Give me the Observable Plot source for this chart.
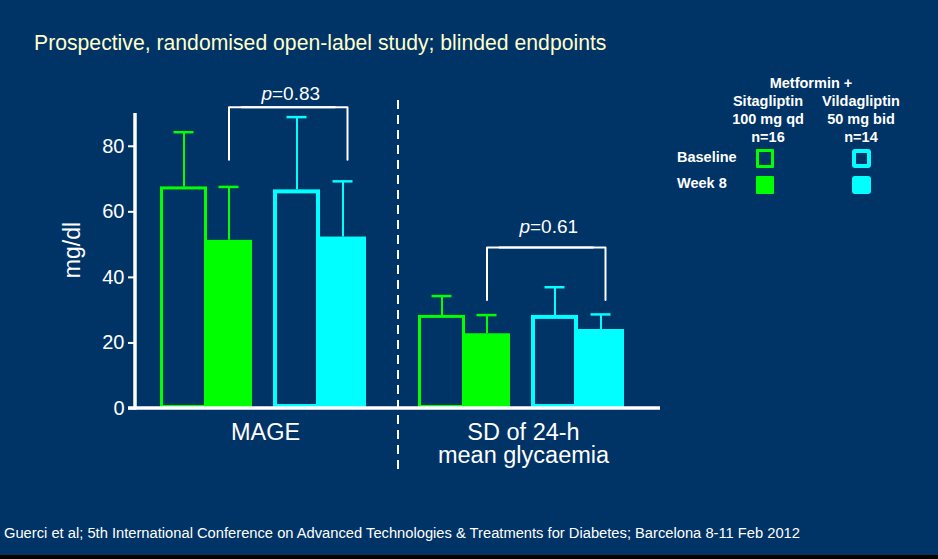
<!DOCTYPE html>
<html>
<head>
<meta charset="utf-8">
<script src="https://cdn.jsdelivr.net/npm/d3@7"></script>
<script src="https://cdn.jsdelivr.net/npm/@observablehq/plot@0.6"></script>
<style>
  html, body { margin: 0; padding: 0; background: #003366; }
  #page { position: relative; width: 938px; height: 559px; background: #003366; overflow: hidden;
          font-family: "Liberation Sans", Arial, sans-serif; color: #ffffff; }
  #chart { position: absolute; left: 0; top: 0; }
  .abs { position: absolute; white-space: nowrap; }
  #title { left: 34px; top: 31.5px; font-size: 21.2px; line-height: 21px; color: #ffffcc; }
  #caption { left: 4px; top: 526px; font-size: 14px; line-height: 14px; color: #ffffff; transform-origin: 0 0; }
  #ylabel { left: 72px; top: 250px; font-size: 23px; transform: translate(-50%, -50%) rotate(-90deg); }
  .leg { font-size: 14.5px; line-height: 18px; font-weight: bold; }
  .col { width: 110px; text-align: center; }
  #strip { left: 0; top: 555px; width: 938px; height: 4px; background: #000; }
</style>
</head>
<body>
<div id="page">
  <div id="chart"></div>
  <div id="title" class="abs"></div>
  <div id="ylabel" class="abs"></div>
  <div id="legend"></div>
  <div id="caption" class="abs"></div>
  <div id="strip" class="abs"></div>
</div>
<script>
// ---------- data ----------
const titleText = "Prospective, randomised open-label study; blinded endpoints";
const captionText = "Guerci et al; 5th International Conference on Advanced Technologies & Treatments for Diabetes; Barcelona 8-11 Feb 2012";
const yLabel = "mg/dl";
const categories = ["MAGE", "SD"];
const categoryLabels = ["MAGE", "SD of 24-h\nmean glycaemia"];
const seriesKeys = ["sitaBaseline", "sitaWeek8", "vildaBaseline", "vildaWeek8"];
const mageMean  = [67.6, 51.3, 66.7, 52.3];
const mageUpper = [84.3, 67.6, 88.9, 69.3];
const sdMean    = [28.4, 22.8, 28.4, 24.1];
const sdUpper   = [34.3, 28.5, 37.0, 28.7];
const yTicks = [0, 20, 40, 60, 80];
const pValues = ["0.83", "0.61"];
const bracketTop = [91.9, 49.1];
const bracketLeg = [75.9, 33.1];
const pLabelY = [95.9, 55.5];
const legendHeader = "Metformin +";
const armNames = ["Sitagliptin", "Vildagliptin"];
const armDoses = ["100 mg qd", "50 mg bid"];
const armN = ["n=16", "n=14"];
const visitNames = ["Baseline", "Week 8"];

// ---------- styles ----------
const GREEN = "#00ff00", CYAN = "#00ffff", WHITE = "#ffffff";
const seriesStyle = {
  sitaBaseline:  {color: GREEN, filled: false, dx: 0,  sw: 3},
  sitaWeek8:     {color: GREEN, filled: true,  dx: -8, sw: 0},
  vildaBaseline: {color: CYAN,  filled: false, dx: 7,  sw: 4},
  vildaWeek8:    {color: CYAN,  filled: true,  dx: 0,  sw: 0}
};
const M = {top: 113, bottom: 92, left: 135, right: 286};
const W = 938, H = 500;

// ---------- tables ----------
const means = [mageMean, sdMean], uppers = [mageUpper, sdUpper];
const rows = categories.flatMap((cat, ci) => seriesKeys.map((key, si) => ({
  cat, key, mean: means[ci][si], upper: uppers[ci][si]
})));
const brackets = categories.map((cat, i) => ({cat, top: bracketTop[i], leg: bracketLeg[i], p: pValues[i], ly: pLabelY[i]}));
const leftHalf = brackets.flatMap(b => [
  {cat: b.cat, key: "sitaWeek8", y: b.leg}, {cat: b.cat, key: "sitaWeek8", y: b.top}, {cat: b.cat, key: "vildaWeek8", y: b.top}]);
const rightHalf = brackets.flatMap(b => [
  {cat: b.cat, key: "sitaWeek8", y: b.top}, {cat: b.cat, key: "vildaWeek8", y: b.top}, {cat: b.cat, key: "vildaWeek8", y: b.leg}]);

const seriesMarks = seriesKeys.flatMap(key => {
  const s = seriesStyle[key];
  const d = rows.filter(r => r.key === key);
  return [
    Plot.ruleX(d, {fx: "cat", x: "key", y1: "mean", y2: "upper", stroke: s.color, strokeWidth: 2, dx: s.dx}),
    Plot.tickY(d, {fx: "cat", x: "key", y: "upper", stroke: s.color, strokeWidth: 2.5, insetLeft: 13.5, insetRight: 13.5, dx: s.dx}),
    s.filled
      ? Plot.barY(d, {fx: "cat", x: "key", y: "mean", fill: s.color, dx: s.dx})
      : Plot.barY(d, {fx: "cat", x: "key", y: "mean", fill: "none", stroke: s.color, strokeWidth: s.sw, inset: s.sw / 2, dx: s.dx})
  ];
});

const plot = Plot.plot({
  width: W, height: H,
  marginTop: M.top, marginBottom: M.bottom, marginLeft: M.left, marginRight: M.right,
  style: {background: "transparent", color: WHITE, fontFamily: "'Liberation Sans', Arial, sans-serif", fontSize: "20px", overflow: "visible"},
  fx: {domain: categories, padding: 0, axis: null, label: null},
  x: {domain: seriesKeys, paddingInner: 0.119, paddingOuter: 0.488, align: 0.462, axis: null},
  y: {domain: [0, 90], axis: null},
  marks: [
    ...seriesMarks,
    Plot.line(leftHalf, {fx: "cat", x: "key", y: "y", z: "cat", stroke: WHITE, strokeWidth: 2, dx: -8}),
    Plot.line(rightHalf, {fx: "cat", x: "key", y: "y", z: "cat", stroke: WHITE, strokeWidth: 2, dx: 4.5}),
    Plot.text(brackets, {fx: "cat", x: () => "vildaBaseline", y: "ly", text: () => "p", fontStyle: "italic",
      textAnchor: "end", dx: -18, fontSize: 19, fill: WHITE}),
    Plot.text(brackets, {fx: "cat", x: () => "vildaBaseline", y: "ly", text: d => "=" + d.p,
      textAnchor: "start", dx: -18, fontSize: 19, fill: WHITE}),
    Plot.text(categories, {fx: d => d, text: (d, i) => categoryLabels[i], frameAnchor: "bottom",
      lineAnchor: "top", dy: 14, fontSize: 23.5, lineHeight: 1.02, fill: WHITE}),
    Plot.axisY(yTicks, {tickSize: 8, tickPadding: 4, strokeWidth: 2, stroke: WHITE, fill: WHITE,
      fontSize: 20, label: null, tickFormat: d => String(d)})
  ]
});
document.getElementById("chart").appendChild(plot);

// axis lines and divider, positioned through the plot's own y scale
const ys = plot.scale("y");
const svg = d3.select(plot.tagName.toLowerCase() === "svg" ? plot : plot.querySelector("svg"));
svg.append("line")
  .attr("x1", M.left - 7).attr("x2", W - M.right + 8)
  .attr("y1", ys.apply(0)).attr("y2", ys.apply(0))
  .attr("stroke", WHITE).attr("stroke-width", 3.5);
svg.append("line")
  .attr("x1", M.left).attr("x2", M.left)
  .attr("y1", ys.apply(0) + 1.5).attr("y2", ys.apply(90))
  .attr("stroke", WHITE).attr("stroke-width", 3.5);
const midX = (M.left + W - M.right) / 2 + 4.5;
svg.append("line")
  .attr("x1", midX).attr("x2", midX)
  .attr("y1", ys.apply(94)).attr("y2", ys.apply(-19))
  .attr("stroke", WHITE).attr("stroke-width", 2).attr("stroke-dasharray", "9,6");

// ---------- html text ----------
document.getElementById("title").textContent = titleText;
document.getElementById("ylabel").textContent = yLabel;
const cap = document.getElementById("caption");
cap.textContent = captionText;
cap.style.display = "inline-block";
const cw = cap.getBoundingClientRect().width;
cap.style.transform = `scaleX(${796 / cw})`;

// ---------- legend ----------
const leg = document.getElementById("legend");
function addDiv(cls, css, text) {
  const el = document.createElement("div");
  el.className = cls;
  Object.assign(el.style, css);
  if (text !== undefined) el.textContent = text;
  leg.appendChild(el);
  return el;
}
addDiv("abs leg col", {left: "756px", top: "73.7px"}, legendHeader);
const colCenters = [768, 861];
armNames.forEach((name, i) => {
  const el = addDiv("abs leg col", {left: (colCenters[i] - 55) + "px", top: "92px"});
  el.innerHTML = [name, armDoses[i], armN[i]].join("<br>");
});
visitNames.forEach((v, i) => addDiv("abs leg", {left: "677px", top: (148.3 + i * 26) + "px"}, v));
const swatchKeys = [["sitaBaseline", "vildaBaseline"], ["sitaWeek8", "vildaWeek8"]];
swatchKeys.forEach((pair, r) => pair.forEach((key, c) => {
  const s = seriesStyle[key];
  const css = {left: (c === 0 ? 756 : 852) + "px", top: (r === 0 ? 149 : 175.5) + "px",
    width: (c === 0 ? 18 : 19) + "px", height: (r === 0 ? 19 : 18.5) + "px", boxSizing: "border-box",
    borderRadius: (c === 0 ? 1 : 3) + "px"};
  if (s.filled) css.background = s.color;
  else css.border = `${s.sw}px solid ${s.color}`;
  addDiv("abs", css);
}));
</script>
</body>
</html>
